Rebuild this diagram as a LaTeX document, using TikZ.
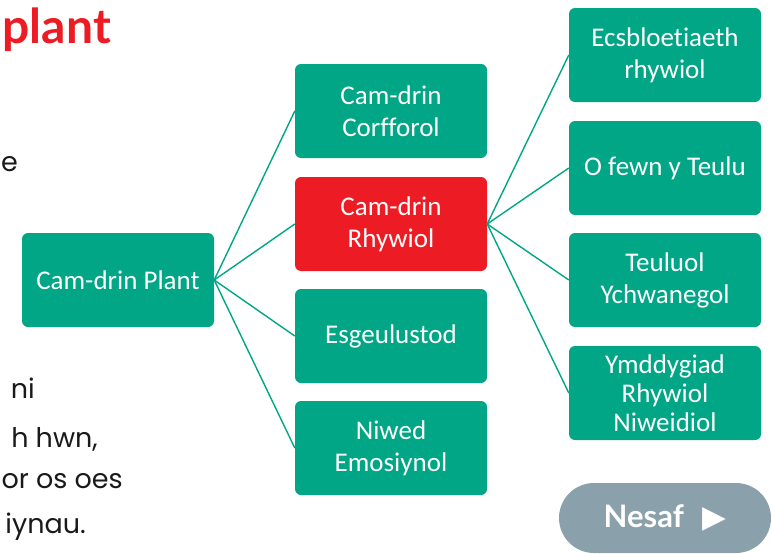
\documentclass[tikz,border=0pt]{standalone}
\usepackage{fontspec}
\setmainfont{Carlito}[Ligatures=NoCommon]
\newfontfamily\pagefont{Lato}
\newfontfamily\bodyfont{Poppins}
\newfontfamily\symfont{DejaVu Sans}

\definecolor{boxgreen}{RGB}{0,166,133}
\definecolor{boxred}{RGB}{237,28,36}
\definecolor{btngray}{RGB}{138,161,172}
\definecolor{pagetext}{RGB}{25,25,25}

\tikzset{
    box/.style={fill=boxgreen,text=white,rounded corners=6pt,minimum width=192pt,minimum height=94pt,
                align=center,inner sep=2pt,font=\fontsize{27}{32}\selectfont},
    hotbox/.style={box,fill=boxred},
    link/.style={boxgreen,line width=1.4pt},
    sidetext/.style={anchor=base east,inner sep=0pt,text=pagetext,font=\bodyfont\fontsize{27}{34}\selectfont},
    nextbtn/.style={fill=btngray,text=white,rounded corners=35pt,minimum width=212pt,minimum height=70pt,
                    font=\pagefont\bfseries\fontsize{31}{34}\selectfont}
}

\begin{document}
\begin{tikzpicture}[x=1pt,y=-1pt]
\useasboundingbox (0,0) rectangle (772,554);

\node[anchor=base east,inner sep=0pt,text=boxred,font=\pagefont\bfseries\fontsize{48}{52}\selectfont] (title) at (111,43) {plant};
\node[sidetext] (line1) at (18,171) {e};
\node[sidetext] (line2) at (35,398) {ni};
\node[sidetext] (line3) at (98,447) {h hwn,};
\node[sidetext] (line4) at (123,488) {or os oes};
\node[sidetext] (line5) at (86,533) {iynau.};

\node[box] (plant) at (118,280) {Cam-drin Plant};

\node[box] (corff) at (391,111) {Cam-drin\\Corfforol};
\node[hotbox] (rhyw) at (391,224) {Cam-drin\\Rhywiol};
\node[box] (esgeu) at (391,336) {Esgeulustod};
\node[box] (niwed) at (391,448) {Niwed\\Emosiynol};

\node[box] (ecsb) at (665,55) {Ecsbloetiaeth\\rhywiol};
\node[box] (teulu) at (665,168) {O fewn y Teulu};
\node[box] (ychw) at (665,280) {Teuluol\\Ychwanegol};
\node[box,font=\fontsize{27}{29}\selectfont] (ymdd) at (665,393) {Ymddygiad\\Rhywiol\\Niweidiol};

\foreach \m in {corff,rhyw,esgeu,niwed}
    \draw[link] (plant.east) -- (\m.west);
\foreach \r in {ecsb,teulu,ychw,ymdd}
    \draw[link] (rhyw.east) -- (\r.west);

\node[nextbtn] (nesaf) at (665,518) {Nesaf\hspace{0.6em}{\symfont\mdseries ▶}};
\end{tikzpicture}
\end{document}
